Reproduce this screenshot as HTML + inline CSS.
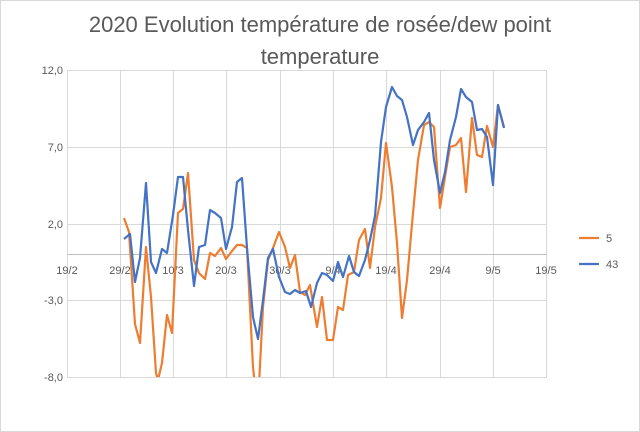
<!DOCTYPE html>
<html><head><meta charset="utf-8"><style>
html,body{margin:0;padding:0;background:#fff}
svg{display:block;font-family:"Liberation Sans",sans-serif}
</style></head><body>
<svg width="640" height="432" viewBox="0 0 640 432">
<rect x="0.5" y="0.5" width="639" height="431" fill="#fff" stroke="#d9d9d9"/>
<text x="320" y="32" text-anchor="middle" font-size="22" fill="#595959">2020 Evolution température de rosée/dew point</text>
<text x="320" y="64" text-anchor="middle" font-size="22" fill="#595959">temperature</text>
<g stroke="#d9d9d9" stroke-width="1">
<line x1="67" y1="70.5" x2="547" y2="70.5"/>
<line x1="67" y1="147.5" x2="547" y2="147.5"/>
<line x1="67" y1="224.5" x2="547" y2="224.5"/>
<line x1="67" y1="300.5" x2="547" y2="300.5"/>
<line x1="67" y1="377.5" x2="547" y2="377.5"/>
<line x1="67.5" y1="70" x2="67.5" y2="377"/>
<line x1="120.5" y1="70" x2="120.5" y2="377"/>
<line x1="173.5" y1="70" x2="173.5" y2="377"/>
<line x1="226.5" y1="70" x2="226.5" y2="377"/>
<line x1="280.5" y1="70" x2="280.5" y2="377"/>
<line x1="333.5" y1="70" x2="333.5" y2="377"/>
<line x1="386.5" y1="70" x2="386.5" y2="377"/>
<line x1="440.5" y1="70" x2="440.5" y2="377"/>
<line x1="493.5" y1="70" x2="493.5" y2="377"/>
<line x1="546.5" y1="70" x2="546.5" y2="377"/>
<line x1="67" y1="254.5" x2="547" y2="254.5" stroke="#bfbfbf"/>
</g>
<g font-size="11" fill="#595959" text-anchor="end">
<text x="63" y="74">12,0</text>
<text x="63" y="151">7,0</text>
<text x="63" y="228">2,0</text>
<text x="63" y="304">-3,0</text>
<text x="63" y="381">-8,0</text>
</g>
<g font-size="11" fill="#595959" text-anchor="middle">
<text x="67" y="274">19/2</text><text x="120" y="274">29/2</text><text x="173" y="274">10/3</text>
<text x="226" y="274">20/3</text><text x="280" y="274">30/3</text><text x="333" y="274">9/4</text>
<text x="386" y="274">19/4</text><text x="440" y="274">29/4</text><text x="493" y="274">9/5</text>
<text x="546" y="274">19/5</text>
</g>
<defs><clipPath id="c"><rect x="60" y="60" width="500" height="317"/></clipPath></defs>
<g clip-path="url(#c)" fill="none" stroke-width="2.2" stroke-linejoin="round">
<polyline stroke="#ed7d31" points="124,218 129,232 135,324 140,343 146,247 151,297 156,373 158,380 162,363 167,315 172,333 178,213 183,209 188,173 194,260 199,273 205,279 210,253 215,256 221,248 226,259 232,251 237,245 242,245 247,248 253,367 255,385 259,385 263,307 268,260 273,248 279,232 285,247 290,268 295,255 300,292 305,295 310,285 317,327 322,297 327,340 333,340 338,307 343,310 348,275 354,272 359,240 365,229 370,268 375,227 381,198 386,143 392,187 397,243 402,318 407,280 413,213 418,160 424,125 429,122 434,127 440,208 445,177 450,147 456,145 461,138 466,192 472,118 477,155 482,157 487,126 493,147 498,105 504,127"/>
<polyline stroke="#4472c4" points="124,239 130,234 135,282 140,258 146,183 151,262 156,273 162,249 167,253 173,215 178,177 183,177 188,230 194,286 199,247 205,245 210,210 215,213 221,218 226,249 232,227 237,182 242,178 247,248 253,317 258,339 263,300 268,258 273,249 279,277 285,292 290,294 295,290 300,293 306,291 311,307 317,283 322,273 327,275 333,281 338,262 343,277 349,256 354,272 359,276 365,260 370,240 375,216 381,142 386,107 392,87 397,96 402,100 407,117 413,145 418,130 424,122 429,113 434,160 440,193 445,172 450,140 456,117 461,89 466,97 472,102 477,130 482,129 487,137 493,185 498,105 504,128"/>
</g>
<line x1="579" y1="238" x2="599" y2="238" stroke="#ed7d31" stroke-width="2.2"/>
<text x="606" y="242" font-size="11" fill="#595959">5</text>
<line x1="579" y1="264" x2="599" y2="264" stroke="#4472c4" stroke-width="2.2"/>
<text x="606" y="268" font-size="11" fill="#595959">43</text>
</svg>
</body></html>
